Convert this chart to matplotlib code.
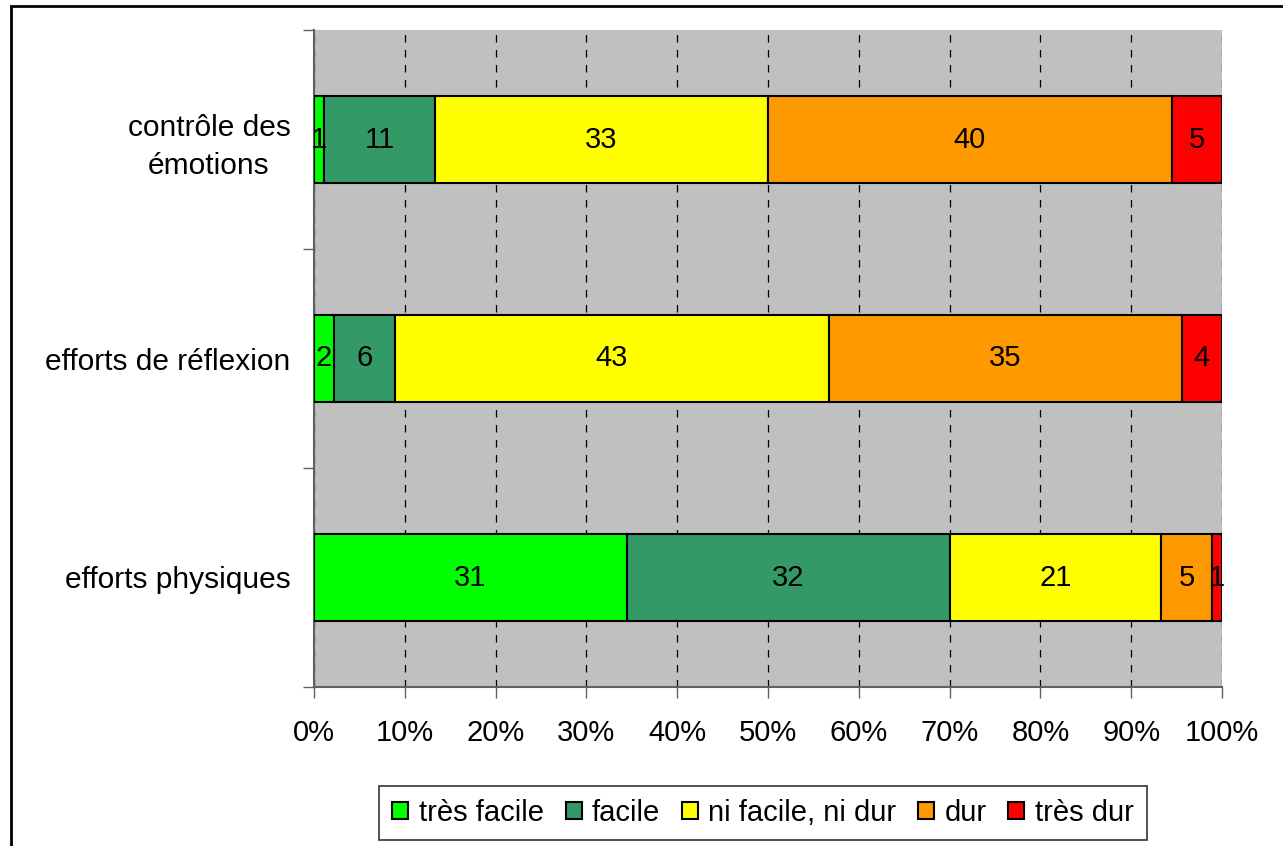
import matplotlib
matplotlib.use("Agg")
from matplotlib import pyplot as plt
from matplotlib.patches import Rectangle
import numpy as np

plt.rcParams['font.family'] = ['Liberation Sans', 'DejaVu Sans']

categories = ['contrôle des\némotions', 'efforts de réflexion', 'efforts physiques']
series = ['très facile', 'facile', 'ni facile, ni dur', 'dur', 'très dur']
colors = ['#00FF00', '#339966', '#FFFF00', '#FF9900', '#FF0000']
values = np.array([
    [1, 11, 33, 40, 5],
    [2, 6, 43, 35, 4],
    [31, 32, 21, 5, 1],
], dtype=float)

pct = values / values.sum(axis=1, keepdims=True) * 100
ypos = np.arange(len(categories))[::-1]

fig = plt.figure(figsize=(12.83, 8.46), dpi=100)
ax = fig.add_axes([314/1283, 1 - 687/846, (1222-314)/1283, (687-30)/846])
ax.set_facecolor('#C0C0C0')

left = np.zeros(len(categories))
for j, name in enumerate(series):
    ax.barh(ypos, pct[:, j], left=left, height=0.4, color=colors[j],
            edgecolor='black', linewidth=1.5, label=name, zorder=3)
    for i in range(len(categories)):
        ax.text(left[i] + pct[i, j] / 2, ypos[i], f'{int(values[i, j])}',
                ha='center', va='center', fontsize=21, zorder=4)
    left += pct[:, j]

ax.set_xlim(0, 100)
ax.set_ylim(-0.5, len(categories) - 0.5)
ax.set_xticks(np.arange(0, 101, 10))
ax.set_xticklabels([f'{v}%' for v in range(0, 101, 10)], fontsize=21)
ax.set_yticks(ypos)
ax.set_yticklabels(categories, fontsize=21.5, multialignment='center',
                   linespacing=1.45)
ax.set_yticks(np.arange(-0.5, len(categories), 1), minor=True)
ax.tick_params(axis='y', which='major', length=0, pad=17)
ax.tick_params(axis='y', which='minor', length=8, width=1, color='#606060')
ax.tick_params(axis='x', length=8, width=1, color='#606060', pad=15)
ax.grid(axis='x', color='black', linestyle=(0, (6, 6)), linewidth=0.9, zorder=1)
for s in ['top', 'right']:
    ax.spines[s].set_visible(False)
for s in ['left', 'bottom']:
    ax.spines[s].set_color('#606060')
    ax.spines[s].set_linewidth(1.5)

leg = fig.legend(loc='center', bbox_to_anchor=(763/1283, 1 - 813/846), ncol=5,
                 fontsize=21, frameon=True, fancybox=False, handlelength=0.55,
                 handleheight=0.55, handletextpad=0.35, columnspacing=0.75,
                 borderpad=0.45, borderaxespad=0, edgecolor='black')
leg.get_frame().set_linewidth(1.2)

fig.patches.append(Rectangle((11/1283, -0.01), 1.1, 1 - 6/846 + 0.01,
                             transform=fig.transFigure, fill=False,
                             edgecolor='black', linewidth=2))

fig.savefig('out.png', dpi=100)
